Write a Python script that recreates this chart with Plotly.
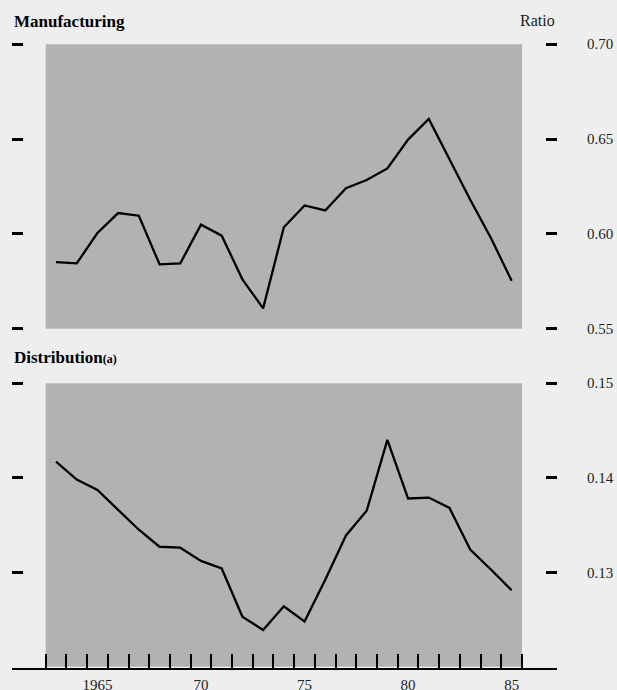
import plotly.graph_objects as go

years = list(range(1963, 1986))
manufacturing = [0.5852, 0.5845, 0.6005, 0.6110, 0.6096, 0.5840, 0.5845, 0.6049, 0.5991,
                 0.5761, 0.5608, 0.6035, 0.6150, 0.6124, 0.6241, 0.6284, 0.6345, 0.6497,
                 0.6606, 0.6389, 0.6180, 0.5979, 0.5753]
distribution = [0.1417, 0.1398, 0.1387, 0.1366, 0.1345, 0.1327, 0.1326, 0.1312, 0.1304,
                0.1253, 0.1239, 0.1264, 0.1248, 0.1292, 0.1339, 0.1365, 0.1440, 0.1378,
                0.1379, 0.1368, 0.1324, 0.1303, 0.1281]
manu_ticks = [0.55, 0.60, 0.65, 0.70]
dist_ticks = [0.13, 0.14, 0.15]
manu_range = [0.55, 0.70]
dist_range = [0.12, 0.15]
year_label_vals = [1965, 1970, 1975, 1980, 1985]
year_label_text = ["1965", "70", "75", "80", "85"]

SERIF = "Liberation Serif, Times New Roman, serif"
PAPER = "#eeeeee"
BOX = "#b2b2b2"

x_lo = years[0] - 0.5
x_hi = years[-1] + 0.5
x_range = [x_lo - 1.625, x_hi + 1.69]
boundaries = [x_lo + i for i in range(len(years) + 1)]

fig = go.Figure()
fig.add_trace(go.Scatter(x=years, y=manufacturing, mode="lines",
                         line=dict(color="black", width=2.3), xaxis="x", yaxis="y",
                         showlegend=False, hoverinfo="skip"))
fig.add_trace(go.Scatter(x=years, y=distribution, mode="lines",
                         line=dict(color="black", width=2.3), xaxis="x2", yaxis="y2",
                         showlegend=False, hoverinfo="skip"))

# gray panels
fig.add_shape(type="rect", xref="x", yref="y", x0=x_lo, x1=x_hi, y0=manu_range[0], y1=manu_range[1],
              fillcolor=BOX, line=dict(width=0), layer="below")
fig.add_shape(type="rect", xref="x2", yref="y2", x0=x_lo, x1=x_hi, y0=dist_range[0], y1=dist_range[1],
              fillcolor=BOX, line=dict(width=0), layer="below")

pad_m = 0.0006
pad_d = 0.00012
tickfont = dict(family=SERIF, size=15, color="#222222")

def yax(domain, rng, ticks, anchor):
    return dict(domain=domain, range=rng, tickmode="array", tickvals=ticks,
                ticktext=["%.2f" % t for t in ticks], tickfont=tickfont,
                ticks="inside", ticklen=11, tickwidth=3, tickcolor="black", showgrid=False,
                zeroline=False, showline=False, mirror="ticks", anchor=anchor, side="right",
                ticklabelstandoff=29, automargin=False)

top_dom = [0.5408, 1.0]
bot_dom = [0.0, 0.4576]
mr = [manu_range[0] - pad_m, manu_range[1] + pad_m]
dr = [dist_range[0] - pad_d, dist_range[1] + pad_d]

fig.update_layout(
    width=617, height=690,
    margin=dict(l=12, r=60, t=43, b=22, autoexpand=False),
    paper_bgcolor=PAPER, plot_bgcolor="rgba(0,0,0,0)",
    font=dict(family=SERIF, color="#111111"),
    xaxis=dict(domain=[0, 1], range=x_range, anchor="y", visible=False, automargin=False),
    xaxis2=dict(domain=[0, 1], range=x_range, anchor="y2", tickmode="array",
                tickvals=year_label_vals, ticktext=year_label_text, tickfont=tickfont,
                ticks="", showgrid=False, zeroline=False, showline=True, linecolor="black",
                linewidth=2, ticklabelstandoff=2, automargin=False,
                minor=dict(tickmode="array", tickvals=boundaries, ticks="inside", ticklen=14,
                           tickwidth=2, tickcolor="black", showgrid=False)),
    yaxis=yax(top_dom, mr, manu_ticks, "x"),
    yaxis2=yax(bot_dom, dr, dist_ticks, "x2"),
)

fig.add_annotation(text="<b>Manufacturing</b>", xref="paper", yref="paper", x=0, y=1.0352,
                   xanchor="left", yanchor="middle", showarrow=False,
                   font=dict(family=SERIF, size=17, color="black"))
fig.add_annotation(text="Ratio", xref="paper", yref="paper", x=1, y=1.0368,
                   xanchor="right", yanchor="middle", showarrow=False,
                   font=dict(family=SERIF, size=16, color="#222222"))
fig.add_annotation(text="<b>Distribution<span style='font-size:12px'>(a)</span></b>",
                   xref="paper", yref="paper", x=0, y=0.4976,
                   xanchor="left", yanchor="middle", showarrow=False,
                   font=dict(family=SERIF, size=17, color="black"))

fig.write_html("out.html", config={"displayModeBar": False},
               post_script="document.body.style.margin='0';document.body.style.overflow='hidden';")
